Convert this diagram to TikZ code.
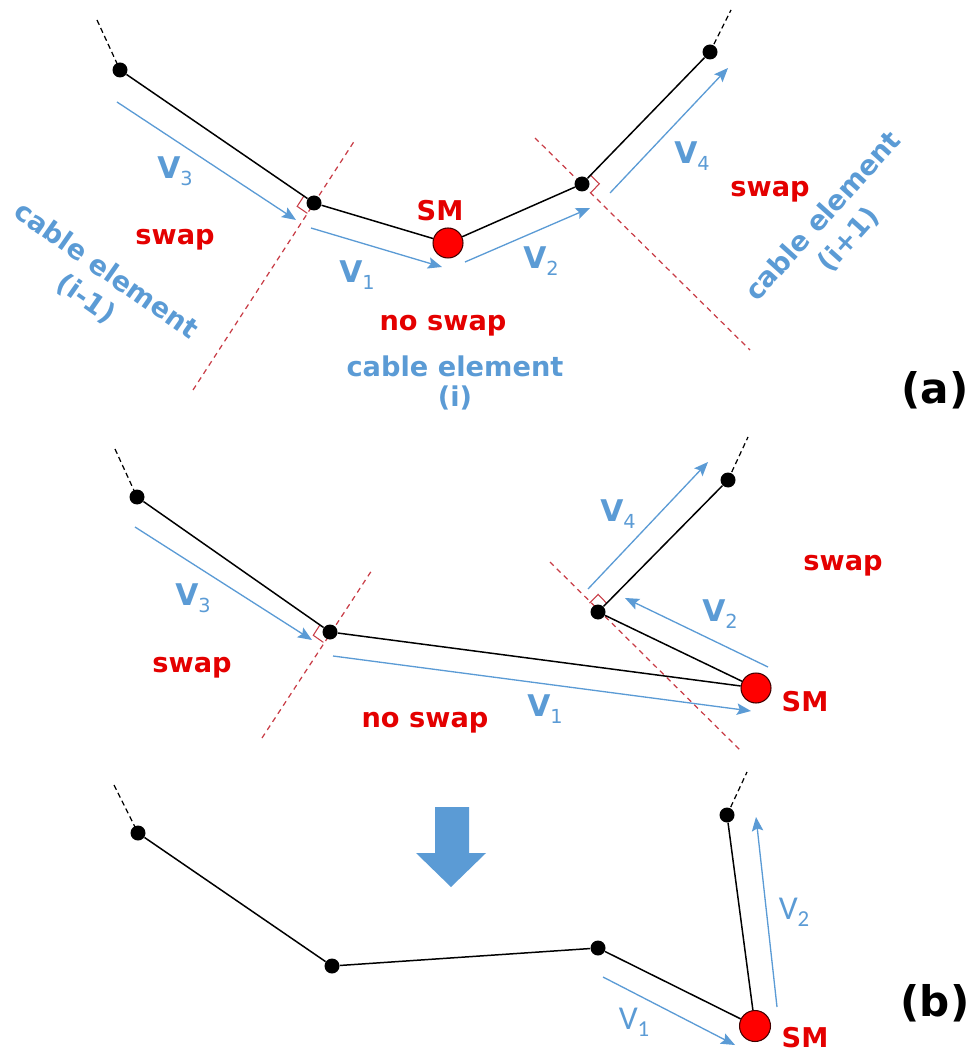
\documentclass[tikz,border=0pt]{standalone}
\usepackage{fontspec}
\setmainfont{DejaVu Sans}
\newfontfamily\carl{Carlito}
\usetikzlibrary{arrows.meta,calc}
\definecolor{cblue}{RGB}{91,155,213}
\definecolor{tred}{RGB}{228,0,0}
\definecolor{dred}{RGB}{200,60,70}
\newcommand\vlab[1]{V\raisebox{-0.45ex}{\fontsize{11}{11}\selectfont\mdseries #1}}
\newcommand\vlabc[1]{{\carl V\raisebox{-0.45ex}{\fontsize{13}{13}\selectfont #1}}}
\newcommand\rtmark[3]{%
  \path ($(#1)!7pt!(#2)$) coordinate (rmA) ($(#1)!7pt!(#3)$) coordinate (rmB);
  \draw[rmark] (rmA) -- ($(rmA)+(rmB)-(#1)$) -- (rmB);}
\begin{document}
\begin{tikzpicture}[x=0.02cm,y=-0.02cm,
  dot/.style={circle,fill=black,inner sep=0,minimum size=0.3cm},
  smdot/.style={circle,fill=red,draw=black!75!red,line width=0.6pt,inner sep=0,minimum size=0.6cm},
  seg/.style={line width=0.85pt},
  ext/.style={line width=0.7pt,dash pattern=on 3pt off 2pt},
  vec/.style={cblue,line width=0.75pt,-{Stealth[length=8pt,width=6.5pt,inset=1.5pt]}},
  cut/.style={dred,line width=0.7pt,dash pattern=on 3pt off 2.5pt},
  rmark/.style={dred,line width=0.6pt},
  redlbl/.style={text=tred,font=\fontsize{15.5}{17}\selectfont\bfseries},
  bluelbl/.style={text=cblue,font=\fontsize{15.5}{16.5}\selectfont\bfseries,align=center,inner sep=0},
  vlbl/.style={text=cblue,font=\fontsize{17}{19}\selectfont\bfseries},
  vlblc/.style={text=cblue,font=\fontsize{19}{21}\selectfont},
  panel/.style={font=\fontsize{24}{28}\selectfont\bfseries}]
\useasboundingbox (0,0) rectangle (972,1053);

% ================= panel (a) =================
\coordinate (aT1) at (97,20);
\coordinate (aT4) at (731,10);
\coordinate (cutL1) at (193,390);
\coordinate (cutL2) at (355,140);
\coordinate (cutR1) at (535,138);
\coordinate (cutR2) at (750,350);

\draw[cut] (cutL1) -- (cutL2);
\draw[cut] (cutR1) -- (cutR2);
\rtmark{314,203}{120,70}{cutL1}
\rtmark{582,184}{710,52}{cutR2}

\node[dot] (A1) at (120,70) {};
\node[dot] (A2) at (314,203) {};
\node[smdot] (SMa) at (448,243) {};
\node[dot] (A3) at (582,184) {};
\node[dot] (A4) at (710,52) {};

\draw[ext] (aT1) -- (A1.center);
\draw[ext] (A4.center) -- (aT4);
\draw[seg] (A1) -- (A2);
\draw[seg] (A2) -- (SMa);
\draw[seg] (SMa) -- (A3);
\draw[seg] (A3) -- (A4);

\coordinate (a3s) at (117,102); \coordinate (a3e) at (296,220);
\coordinate (a1s) at (311,228); \coordinate (a1e) at (442,267);
\coordinate (a2s) at (465,262); \coordinate (a2e) at (590,208);
\coordinate (a4s) at (610,193); \coordinate (a4e) at (728,68);
\draw[vec] (a3s) -- (a3e);
\draw[vec] (a1s) -- (a1e);
\draw[vec] (a2s) -- (a2e);
\draw[vec] (a4s) -- (a4e);

\node[vlbl] (va3) at (175,171) {\vlab{3}};
\node[vlbl] (va1) at (357,275) {\vlab{1}};
\node[vlbl] (va2) at (541,261) {\vlab{2}};
\node[vlbl] (va4) at (692,156) {\vlab{4}};

\node[redlbl] (sma) at (440,211) {SM};
\node[redlbl] (swapa1) at (175,240) {swap};
\node[redlbl] (noswapa) at (443,326) {no swap};
\node[redlbl] (swapa2) at (770,192) {swap};
\node[bluelbl] (cei) at (455,383) {cable element\\[1pt](i)};
\node[bluelbl,rotate=-35] (ceim) at (96,285) {cable element\\[3pt](i-1)};
\node[bluelbl,rotate=48] (ceip) at (836,228) {cable element\\[3pt](i+1)};
\node[panel] (pa) at (935,390) {(a)};

% ================= panel (b), upper =================
\coordinate (bT1) at (115,449);
\coordinate (bT4) at (748,437);
\coordinate (cutL3) at (262,738);
\coordinate (cutL4) at (372,570);
\coordinate (cutR3) at (550,562);
\coordinate (cutR4) at (740,750);

\draw[cut] (cutL3) -- (cutL4);
\draw[cut] (cutR3) -- (cutR4);
\rtmark{330,632}{137,497}{cutL3}
\rtmark{598,612}{728,480}{cutR3}

\node[dot] (B1) at (137,497) {};
\node[dot] (B2) at (330,632) {};
\node[dot] (B3) at (598,612) {};
\node[dot] (B4) at (728,480) {};
\node[smdot] (SMb) at (756,688) {};

\draw[ext] (bT1) -- (B1.center);
\draw[ext] (B4.center) -- (bT4);
\draw[seg] (B1) -- (B2);
\draw[seg] (B2) -- (SMb);
\draw[seg] (SMb) -- (B3);
\draw[seg] (B3) -- (B4);

\coordinate (b3s) at (135,527); \coordinate (b3e) at (312,640);
\coordinate (b1s) at (333,656); \coordinate (b1e) at (751,711);
\coordinate (b2s) at (768,667); \coordinate (b2e) at (625,598);
\coordinate (b4s) at (588,589); \coordinate (b4e) at (708,462);
\draw[vec] (b3s) -- (b3e);
\draw[vec] (b1s) -- (b1e);
\draw[vec] (b2s) -- (b2e);
\draw[vec] (b4s) -- (b4e);

\node[vlbl] (vb3) at (193,598) {\vlab{3}};
\node[vlbl] (vb1) at (545,709) {\vlab{1}};
\node[vlbl] (vb2) at (720,614) {\vlab{2}};
\node[vlbl] (vb4) at (618,514) {\vlab{4}};

\node[redlbl] (smb) at (805,702) {SM};
\node[redlbl] (swapb1) at (192,668) {swap};
\node[redlbl] (noswapb) at (425,723) {no swap};
\node[redlbl] (swapb2) at (843,566) {swap};

% ================= panel (b), lower =================
\fill[cblue] (435,807) -- (469,807) -- (469,853) -- (486,853) -- (451,887)
  -- (416,853) -- (435,853) -- cycle;

\coordinate (cT1) at (114,785);
\coordinate (cT4) at (747,772);
\node[dot] (C1) at (138,833) {};
\node[dot] (C2) at (332,966) {};
\node[dot] (C3) at (598,948) {};
\node[dot] (C4) at (727,815) {};
\node[smdot,minimum width=0.56cm,minimum height=0.62cm] (SMc) at (755,1026) {};

\draw[ext] (cT1) -- (C1.center);
\draw[ext] (C4.center) -- (cT4);
\draw[seg] (C1) -- (C2);
\draw[seg] (C2) -- (C3);
\draw[seg] (C3) -- (SMc);
\draw[seg] (SMc) -- (C4);

\coordinate (c1s) at (603,977); \coordinate (c1e) at (735,1045);
\coordinate (c2s) at (777,1007); \coordinate (c2e) at (756,817);
\draw[vec] (c1s) -- (c1e);
\draw[vec] (c2s) -- (c2e);

\node[vlblc] (vc1) at (634,1022) {\vlabc{1}};
\node[vlblc] (vc2) at (794,912) {\vlabc{2}};
\node[redlbl] (smc) at (805,1038) {SM};
\node[panel] (pb) at (935,1003) {(b)};
\end{tikzpicture}
\end{document}
